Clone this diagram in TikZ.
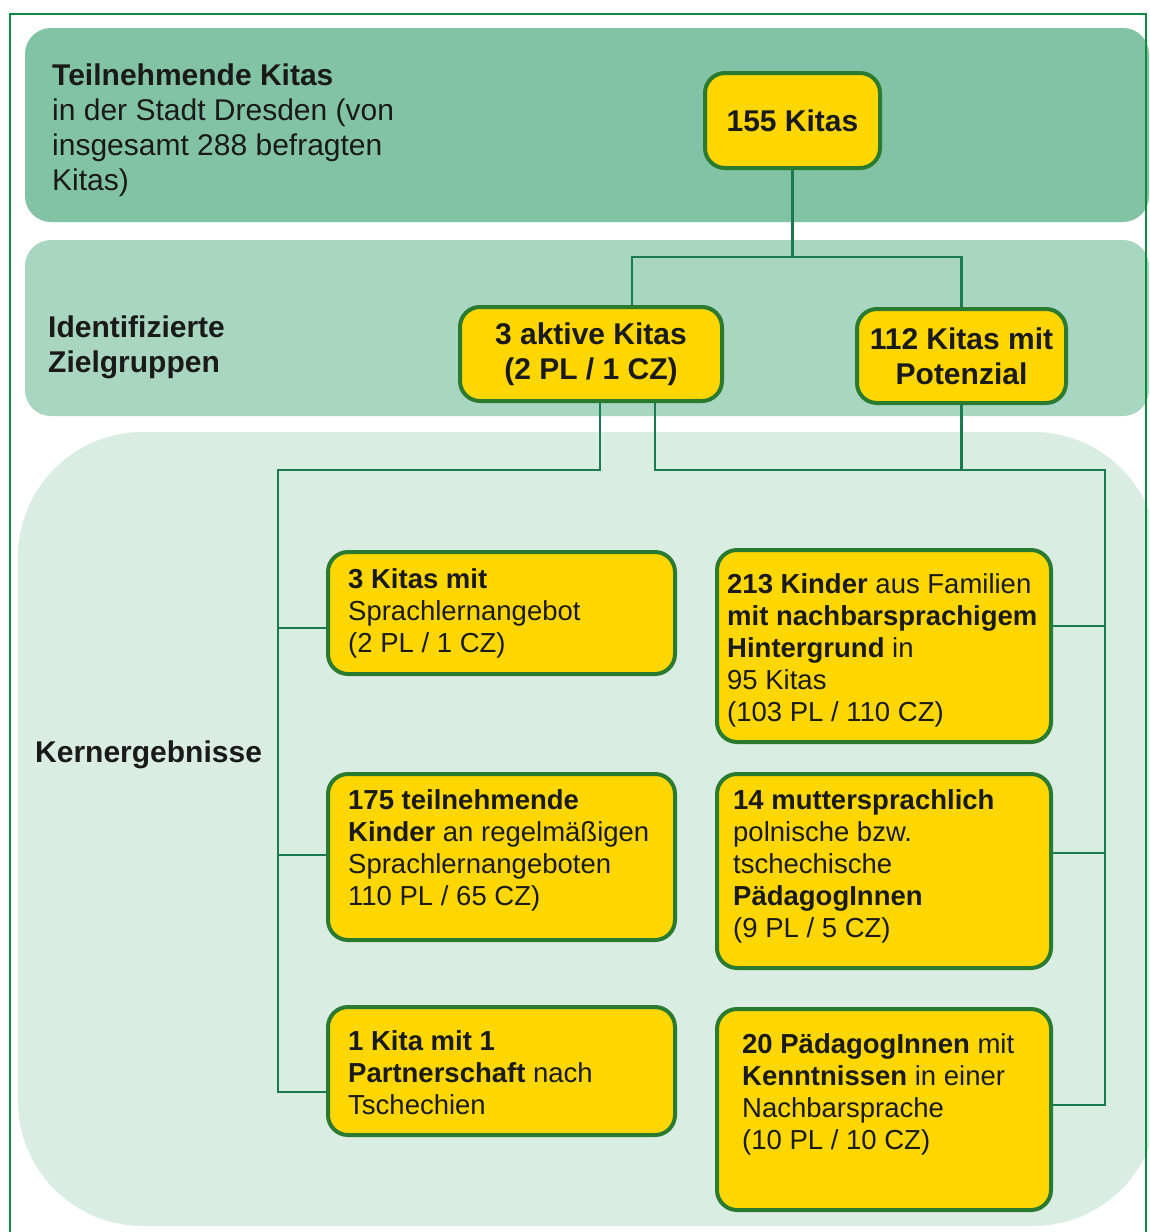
\documentclass[tikz,border=0pt]{standalone}
\usepackage{fontspec}
\setmainfont{Liberation Sans}
\usetikzlibrary{calc}
\definecolor{bandA}{HTML}{82C3A5}
\definecolor{bandB}{HTML}{A9D6C1}
\definecolor{bandC}{HTML}{D9EDE2}
\definecolor{yel}{HTML}{FFD700}
\definecolor{boxline}{HTML}{2A7A30}
\definecolor{connc}{HTML}{1C7A50}
\definecolor{framec}{HTML}{0E8A45}
\definecolor{txt}{HTML}{1A1A1A}
\tikzset{
  ybox/.style={draw=boxline, line width=4pt, fill=yel, rounded corners=20pt, inner sep=0pt},
  conn/.style={draw=connc, line width=2.6pt},
  bigtxt/.style={text=txt, font=\fontsize{30}{35}\selectfont, inner sep=0pt},
  boxtxt/.style={text=txt, font=\fontsize{27.5}{32}\selectfont, inner sep=0pt, align=left, anchor=north west},
}
\begin{document}
\begin{tikzpicture}[x=1pt,y=-1pt]
\clip (0,0) rectangle (1149,1232);
\fill[white] (0,0) rectangle (1149,1232);
% bands
\fill[bandA, rounded corners=26pt] (25,28) rectangle (1149,222);
\fill[bandB, rounded corners=26pt] (25,240) rectangle (1149,416);
\fill[bandC, rounded corners=125pt] (18,432) rectangle (1158,1226);
% outer frame
\draw[framec, line width=2pt] (10,14) rectangle (1146,1260);
% band labels
\node[bigtxt, anchor=north west, align=left] (lab1) at (52,64) {\textbf{Teilnehmende Kitas}\\in der Stadt Dresden (von\\insgesamt 288 befragten\\Kitas)};
\node[bigtxt, anchor=north west, align=left] (lab2) at (48,316) {\textbf{Identifizierte}\\\textbf{Zielgruppen}};
\node[bigtxt, anchor=north west, align=left] (lab3) at (35,741) {\textbf{Kernergebnisse}};
% top nodes
\node[ybox, bigtxt, minimum width=175pt, minimum height=95pt, align=center] (k155) at (792.5,120.5) {\textbf{155 Kitas}};
\node[ybox, bigtxt, minimum width=262pt, minimum height=94pt, align=center] (aktiv) at (591,354) {\textbf{3 aktive Kitas}\\\textbf{(2 PL / 1 CZ)}};
\node[ybox, bigtxt, minimum width=209pt, minimum height=94pt, align=center] (pot) at (961.5,356) {\textbf{112 Kitas mit}\\\textbf{Potenzial}};
% result boxes
\node[ybox, minimum width=347pt, minimum height=122pt] (boxA) at (501.5,613) {};
\node[ybox, minimum width=334pt, minimum height=192pt] (boxB) at (884,646) {};
\node[ybox, minimum width=347pt, minimum height=166pt] (boxC) at (501.5,857) {};
\node[ybox, minimum width=334pt, minimum height=194pt] (boxD) at (884,871) {};
\node[ybox, minimum width=347pt, minimum height=128pt] (boxE) at (501.5,1071) {};
\node[ybox, minimum width=334pt, minimum height=201pt] (boxF) at (884,1109.5) {};
% box texts
\node[boxtxt] (tA) at (348,568) {\textbf{3 Kitas mit}\\Sprachlernangebot\\(2 PL / 1 CZ)};
\node[boxtxt] (tB) at (727,573) {\textbf{213 Kinder} aus Familien\\\textbf{mit nachbarsprachigem}\\\textbf{Hintergrund} in\\95 Kitas\\(103 PL / 110 CZ)};
\node[boxtxt] (tC) at (348,789) {\textbf{175 teilnehmende}\\\textbf{Kinder} an regelmäßigen\\Sprachlernangeboten\\110 PL / 65 CZ)};
\node[boxtxt] (tD) at (733,789) {\textbf{14 muttersprachlich}\\polnische bzw.\\tschechische\\\textbf{PädagogInnen}\\(9 PL / 5 CZ)};
\node[boxtxt] (tE) at (348,1030) {\textbf{1 Kita mit 1}\\\textbf{Partnerschaft} nach\\Tschechien};
\node[boxtxt] (tF) at (742,1033) {\textbf{20 PädagogInnen} mit\\\textbf{Kenntnissen} in einer\\Nachbarsprache\\(10 PL / 10 CZ)};
% junction coordinates
\coordinate (hA) at (0,257);
\coordinate (lt) at (278,470);
\coordinate (rt) at (1105,470);
\coordinate (bA) at ([yshift=-15pt]boxA.west);
\coordinate (bC) at ([yshift=2pt]boxC.west);
\coordinate (bE) at ([yshift=-21pt]boxE.west);
\coordinate (bB) at ([yshift=20pt]boxB.east);
\coordinate (bD) at ([yshift=18pt]boxD.east);
\coordinate (bF) at ([yshift=4.5pt]boxF.east);
% connectors
\draw[conn] (k155.south) -- (k155.south |- hA);
\draw[conn] ([xshift=41pt]aktiv.north) |- (pot.north |- hA) -- (pot.north);
\draw[conn] ([xshift=9pt]aktiv.south) |- (lt) |- (bE);
\draw[conn] (bA -| lt) -- (bA);
\draw[conn] (bC -| lt) -- (bC);
\draw[conn] ([xshift=64pt]aktiv.south) |- (rt) |- (bF);
\draw[conn] (pot.south) -- (pot.south |- rt);
\draw[conn] (bB) -- (bB -| rt);
\draw[conn] (bD) -- (bD -| rt);
\end{tikzpicture}
\end{document}
